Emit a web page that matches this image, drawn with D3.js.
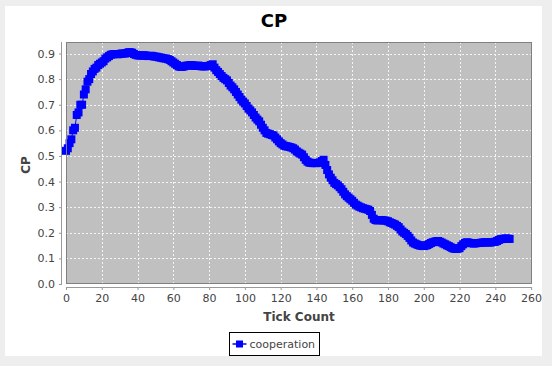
<!DOCTYPE html>
<html>
<head>
<meta charset="utf-8">
<script src="https://cdn.jsdelivr.net/npm/d3@7"></script>
<style>
  body { margin: 0; background: #eeeeee; }
  text { font-family: "DejaVu Sans", sans-serif; }
</style>
</head>
<body>
<script>
// CP per tick (tick 0 .. 248)
var cooperation = [
  0.52,0.53,0.55,0.565,0.60,0.61,0.66,0.67,0.70,0.70,
  0.74,0.76,0.79,0.80,0.82,0.83,0.84,0.845,0.855,0.86,
  0.865,0.87,0.88,0.885,0.89,0.895,0.897,0.898,0.898,0.897,
  0.898,0.90,0.90,0.90,0.902,0.905,0.905,0.903,0.898,0.895,
  0.893,0.892,0.892,0.893,0.893,0.891,0.89,0.891,0.891,0.889,
  0.888,0.887,0.885,0.884,0.882,0.881,0.88,0.878,0.875,0.87,
  0.865,0.86,0.855,0.85,0.848,0.848,0.85,0.852,0.853,0.854,
  0.855,0.853,0.852,0.852,0.853,0.851,0.85,0.85,0.85,0.851,
  0.852,0.855,0.858,0.845,0.835,0.828,0.82,0.812,0.805,0.80,
  0.795,0.785,0.775,0.768,0.76,0.75,0.74,0.73,0.72,0.712,
  0.705,0.695,0.685,0.678,0.67,0.66,0.65,0.642,0.635,0.622,
  0.61,0.60,0.59,0.587,0.585,0.582,0.58,0.572,0.565,0.557,
  0.55,0.545,0.54,0.538,0.537,0.535,0.533,0.53,0.525,0.518,
  0.513,0.509,0.505,0.495,0.485,0.478,0.474,0.473,0.472,0.472,
  0.472,0.473,0.475,0.48,0.485,0.465,0.445,0.428,0.415,0.405,
  0.395,0.39,0.385,0.378,0.37,0.36,0.35,0.343,0.337,0.331,
  0.325,0.317,0.31,0.306,0.302,0.299,0.296,0.294,0.292,0.29,
  0.285,0.27,0.255,0.25,0.248,0.249,0.25,0.249,0.248,0.247,
  0.245,0.241,0.238,0.235,0.232,0.227,0.222,0.213,0.205,0.20,
  0.195,0.188,0.18,0.17,0.162,0.158,0.155,0.152,0.15,0.149,
  0.148,0.15,0.152,0.156,0.16,0.163,0.165,0.167,0.168,0.165,
  0.162,0.158,0.155,0.151,0.148,0.144,0.14,0.138,0.137,0.138,
  0.14,0.148,0.155,0.16,0.163,0.162,0.16,0.159,0.158,0.159,
  0.16,0.16,0.161,0.162,0.163,0.163,0.162,0.162,0.163,0.164,
  0.165,0.168,0.172,0.175,0.176,0.177,0.178,0.177,0.176];
var xTicks = [0,20,40,60,80,100,120,140,160,180,200,220,240,260];
var yTicks = [0.0,0.1,0.2,0.3,0.4,0.5,0.6,0.7,0.8,0.9];

// the tick number is the position in the list
var data = cooperation.map((v, i) => ({t: i, v: v}));

var W = 552, H = 366;
var plot = {left: 66, top: 42, right: 532, bottom: 284};

var svg = d3.select("body").append("svg")
  .attr("width", W).attr("height", H);

// white chart panel
svg.append("rect")
  .attr("x", 5).attr("y", 6).attr("width", 537).attr("height", 350)
  .attr("fill", "#fff");

var x = d3.scaleLinear().domain([0, 260.5]).range([plot.left, plot.right]);
var y = d3.scaleLinear().domain([0, 0.945]).range([plot.bottom, plot.top]);

// plot background
svg.append("rect")
  .attr("x", plot.left).attr("y", plot.top)
  .attr("width", plot.right - plot.left).attr("height", plot.bottom - plot.top)
  .attr("fill", "#c0c0c0");

// grid
var grid = svg.append("g").attr("stroke", "#fff").attr("stroke-width", 1)
  .attr("stroke-dasharray", "2,2").attr("opacity", 0.85);
grid.selectAll(".gx").data(xTicks.slice(1, -1)).enter().append("line")
  .attr("x1", d => Math.round(x(d)) + 0.5).attr("x2", d => Math.round(x(d)) + 0.5)
  .attr("y1", plot.top).attr("y2", plot.bottom);
grid.selectAll(".gy").data(yTicks.slice(1)).enter().append("line")
  .attr("y1", d => Math.round(y(d)) + 0.5).attr("y2", d => Math.round(y(d)) + 0.5)
  .attr("x1", plot.left).attr("x2", plot.right);

// series
svg.append("path")
  .attr("fill", "none").attr("stroke", "#0000ff").attr("stroke-width", 1)
  .attr("d", d3.line().x(d => x(d.t)).y(d => y(d.v))(data));
svg.selectAll(".pt").data(data).enter().append("rect")
  .attr("x", d => x(d.t) - 4).attr("y", d => y(d.v) - 4)
  .attr("width", 8).attr("height", 8).attr("fill", "#0000ff");

// plot border
svg.append("rect")
  .attr("x", plot.left + 0.5).attr("y", plot.top + 0.5)
  .attr("width", plot.right - plot.left - 1).attr("height", plot.bottom - plot.top - 1)
  .attr("fill", "none").attr("stroke", "#808080");

// axes (offset a bit from the plot, like the original)
var groupeX = svg.append("g").attr("transform", `translate(0, ${plot.bottom + 3})`);
groupeX.call(d3.axisBottom(x).tickValues(xTicks).tickSize(3).tickPadding(4).tickFormat(d3.format("d")));
var groupeY = svg.append("g").attr("transform", `translate(${plot.left - 4}, 0)`);
groupeY.call(d3.axisLeft(y).tickValues(yTicks).tickSize(3).tickPadding(4).tickFormat(d3.format(".1f")));

[groupeX, groupeY].forEach(g => {
  g.select(".domain").remove();
  g.selectAll("line").attr("stroke", "#999");
  g.selectAll("text").attr("fill", "#444").style("font-size", "11px")
    .style("font-family", "DejaVu Sans, sans-serif");
});
groupeX.append("line").attr("x1", plot.left).attr("x2", plot.right)
  .attr("y1", 0.5).attr("y2", 0.5).attr("stroke", "#999");
groupeY.append("line").attr("y1", plot.top).attr("y2", plot.bottom)
  .attr("x1", -0.5).attr("x2", -0.5).attr("stroke", "#999");

// titles
svg.append("text").attr("x", 274).attr("y", 27).attr("text-anchor", "middle")
  .style("font-size", "18px").style("font-weight", "bold").attr("fill", "#000").text("CP");
svg.append("text").attr("x", (plot.left + plot.right) / 2).attr("y", 321)
  .attr("text-anchor", "middle").style("font-size", "12px").style("font-weight", "bold")
  .attr("fill", "#444").text("Tick Count");
svg.append("text").attr("transform", `translate(30, ${(plot.top + plot.bottom) / 2 + 2}) rotate(-90)`)
  .attr("text-anchor", "middle").style("font-size", "12px").style("font-weight", "bold")
  .attr("fill", "#444").text("CP");

// legend
var legend = svg.append("g").attr("transform", "translate(229.5, 332.5)");
legend.append("rect").attr("width", 90).attr("height", 23)
  .attr("fill", "#fff").attr("stroke", "#000");
legend.append("line").attr("x1", 3).attr("x2", 17).attr("y1", 11.5).attr("y2", 11.5)
  .attr("stroke", "#0000ff").attr("stroke-width", 1.5);
legend.append("rect").attr("x", 6.5).attr("y", 8).attr("width", 7).attr("height", 7)
  .attr("fill", "#0000ff");
legend.append("text").attr("x", 20).attr("y", 15.5).style("font-size", "11px")
  .attr("fill", "#444").text("cooperation");
</script>
</body>
</html>
